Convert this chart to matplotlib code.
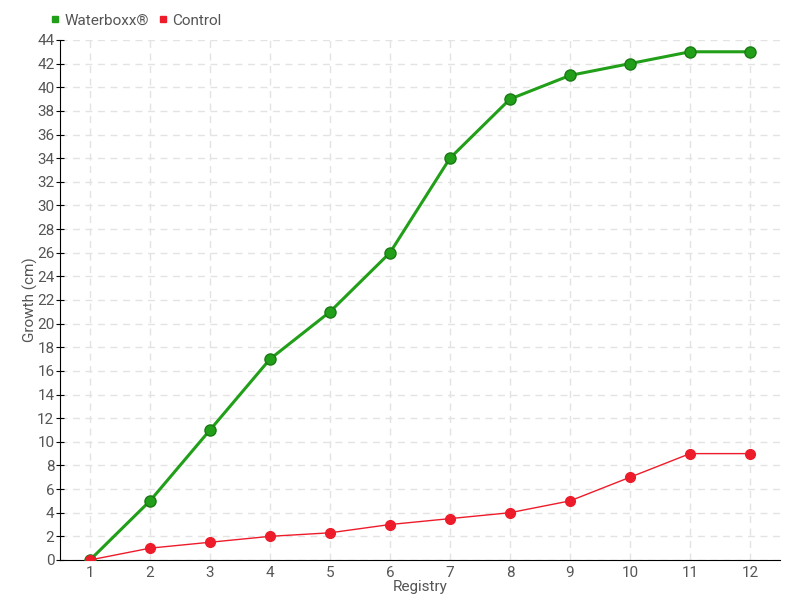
import matplotlib.pyplot as plt
from matplotlib.lines import Line2D

registry = list(range(1, 13))
waterboxx = [0, 5, 11, 17, 21, 26, 34, 39, 41, 42, 43, 43]
control = [0, 1, 1.5, 2, 2.3, 3, 3.5, 4, 5, 7, 9, 9]

green = '#229f19'
red = '#ee1c2a'
txt = '#555555'

plt.rcParams['font.family'] = ['Roboto', 'DejaVu Sans']

fig = plt.figure(figsize=(8, 6), dpi=100)
ax = fig.add_axes([0.075, 0.0667, 0.9, 0.8667])

ax.plot(registry, waterboxx, color=green, lw=2.2, marker='o', ms=8,
        markerfacecolor=green, markeredgecolor='#1a7a14', mew=1, zorder=3)
ax.plot(registry, control, color=red, lw=1, marker='o', ms=7,
        markerfacecolor=red, markeredgecolor=red, zorder=4)

ax.set_xlim(0.5, 12.5)
ax.set_ylim(0, 44)
ax.set_xticks(registry)
ax.set_yticks(range(0, 45, 2))
ax.grid(True, color='#e3e3e3', linestyle=(0, (5, 4)), lw=1)
ax.set_axisbelow(True)
for s in ['top', 'right']:
    ax.spines[s].set_visible(False)
ax.spines['left'].set_color('black')
ax.spines['bottom'].set_color('black')
ax.tick_params(axis='both', colors='black', labelcolor=txt, labelsize=11,
               direction='inout', length=6)
ax.tick_params(axis='y', pad=1)
ax.tick_params(axis='x', length=0, pad=4)
ax.set_xlabel('Registry', color=txt, fontsize=11, labelpad=0)
ax.set_ylabel('Growth (cm)', color=txt, fontsize=11, labelpad=-1)

handles = [Line2D([], [], marker='s', color='none', markerfacecolor=green,
                  markeredgecolor=green, ms=5, label='Waterboxx®'),
           Line2D([], [], marker='s', color='none', markerfacecolor=red,
                  markeredgecolor=red, ms=5, label='Control')]
leg = fig.legend(handles=handles, loc='upper left', bbox_to_anchor=(0.05, 0.995),
                 ncol=2, frameon=False, fontsize=11, handlelength=0.6,
                 handletextpad=0.3, columnspacing=0.6, borderpad=0.2)
for t in leg.get_texts():
    t.set_color(txt)

fig.savefig('out.png', dpi=100)
